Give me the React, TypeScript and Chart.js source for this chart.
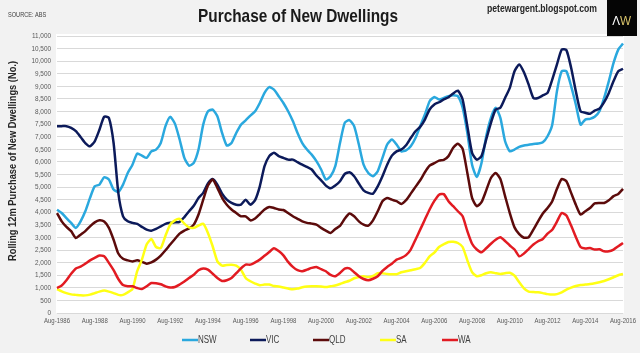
import React, { useEffect, useRef } from "react";
import { Chart, registerables } from "chart.js";

Chart.register(...registerables);

// Quarterly observations, Aug-1986 .. Aug-2016 (121 points)
const MONTHS = ["Jan", "Feb", "Mar", "Apr", "May", "Jun", "Jul", "Aug", "Sep", "Oct", "Nov", "Dec"];
const categories: string[] = Array.from({ length: 121 }, (_, i) => {
  const m = 7 + 3 * i;
  return `${MONTHS[m % 12]}-${1986 + Math.floor(m / 12)}`;
});

const tickLabels = [
  "Aug-1986", "Aug-1988", "Aug-1990", "Aug-1992", "Aug-1994", "Aug-1996", "Aug-1998", "Aug-2000",
  "Aug-2002", "Aug-2004", "Aug-2006", "Aug-2008", "Aug-2010", "Aug-2012", "Aug-2014", "Aug-2016",
];

const yTicks = [0, 500, 1000, 1500, 2000, 2500, 3000, 3500, 4000, 4500, 5000, 5500, 6000, 6500, 7000, 7500, 8000, 8500, 9000, 9500, 10000, 10500, 11000];

const nsw = [
  4100, 3970, 3770, 3575, 3380, 3640, 4040, 4570, 5030, 5100, 5390, 5300, 4900, 4810, 5100, 5560, 5890, 6330, 6250, 6160,
  6420, 6490, 6750, 7420, 7790, 7520, 6890, 6160, 5850, 5960, 6490, 7480, 8010, 8080, 7810, 7150, 6650, 6750, 7150, 7480,
  7650,
  7840, 8010, 8340, 8740, 8970, 8870, 8610, 8340, 8010, 7620, 7150, 6750, 6490, 6290, 6030, 5700, 5300, 5430, 5830, 6750,
  7550, 7660, 7420, 6690, 5890, 5560, 5430, 5630, 6160, 6690, 6890, 6690, 6420, 6460, 6620, 6950, 7420, 7880, 8410, 8580,
  8480, 8540, 8610, 8650, 8610, 8150, 7150, 5890, 5400, 5960, 7020, 7750, 8150, 7750, 6820, 6420, 6490, 6600, 6650, 6680,
  6710, 6730, 6780, 7020, 7480, 8810, 9600, 9600, 9010, 8280, 7480, 7680, 7710, 7790, 8010, 8540, 9210, 9930, 10460, 10700,
];

const vic = [
  7420, 7420, 7420, 7350, 7220, 6990, 6750, 6620, 6820, 7280, 7790, 7750, 6750, 4770, 3840, 3640, 3580, 3540, 3420, 3310,
  3270, 3340, 3440, 3540, 3580, 3600, 3620, 3810, 4040, 4260, 4570, 4770, 5140, 5320, 5100, 4740, 4500, 4370, 4300, 4300,
  4500,
  4300, 4480, 5030, 5830, 6230, 6360, 6230, 6160, 6090, 6090, 5990, 5890, 5800, 5700, 5460, 5270, 5060, 4950, 5060, 5230,
  5520, 5590, 5430, 5140, 4870, 4770, 4740, 5030, 5430, 5890, 6250, 6420, 6490, 6660, 6950, 7220, 7390, 7680, 8080, 8280,
  8370, 8480, 8570, 8720, 8830, 8480, 7420, 6360, 6090, 6230, 6890, 7550, 8080, 8150, 8540, 8940, 9600, 9870, 9560, 9070,
  8540, 8540, 8640, 8740, 9270, 9870, 10460, 10440, 9740, 8810, 8010, 7950, 7910, 8040, 8110, 8370, 8740, 9210, 9600, 9700,
];

const qld = [
  3970, 3640, 3420, 3250, 2980, 3110, 3250, 3440, 3600, 3680, 3630, 3380, 2910, 2360, 2150, 2090, 2050, 2090, 2030, 1960,
  2010, 2120, 2280, 2490, 2720, 2940, 3150, 3270, 3360, 3510, 3910, 4500, 5060, 5300, 4970, 4570, 4300, 4110, 3970, 3840,
  3840,
  3680, 3750, 3930, 4110, 4210, 4170, 4110, 4090, 3970, 3840, 3740, 3640, 3580, 3550, 3510, 3380, 3270, 3180, 3340, 3460,
  3740, 3950, 3840, 3640, 3510, 3470, 3680, 4040, 4440, 4570, 4500, 4440, 4330, 4480, 4740, 5010, 5270, 5590, 5850, 5950,
  6050, 6080, 6230, 6560, 6720, 6520, 5560, 4570, 4240, 4400, 4870, 5360, 5560, 5320, 4640, 3970, 3400, 3130, 2990, 3010,
  3310, 3640, 3950, 4170, 4440, 4930, 5320, 5230, 4770, 4300, 3910, 4040, 4170, 4350, 4370, 4370, 4480, 4640, 4730, 4930,
];

const sa = [
  950, 860, 790, 740, 720, 700, 700, 730, 790, 850, 890, 850, 790, 720, 720, 820, 950, 1660, 2120, 2720,
  2940, 2620, 2580, 3070, 3510, 3680, 3740, 3550, 3400, 3380, 3470, 3540, 3180, 2650, 2050, 1880, 1910, 1920, 1880, 1720,
  1390,
  1260, 1170, 1100, 1130, 1130, 1070, 1050, 1010, 970, 940, 970, 1020, 1050, 1060, 1060, 1050, 1030, 1060, 1090, 1150,
  1220, 1280, 1380, 1430, 1460, 1430, 1470, 1580, 1580, 1550, 1540, 1540, 1620, 1660, 1700, 1740, 1790, 1990, 2250, 2400,
  2620, 2730, 2820, 2830, 2780, 2620, 2090, 1620, 1460, 1500, 1580, 1620, 1580, 1550, 1580, 1600, 1480, 1220, 980, 850,
  830, 820, 790, 750, 730, 750, 820, 930, 1010, 1070, 1110, 1130, 1150, 1180, 1220, 1270, 1340, 1420, 1500, 1550,
];

const wa = [
  990, 1090, 1300, 1560, 1770, 1840, 1960, 2090, 2190, 2280, 2250, 1990, 1700, 1350, 1110, 1060, 1060, 990, 950, 1060,
  1190, 1180, 1140, 1060, 1010, 1030, 1130, 1250, 1390, 1520, 1700, 1770, 1720, 1560, 1390, 1270, 1300, 1390, 1580, 1770,
  1920,
  1920, 2010, 2120, 2270, 2420, 2570, 2460, 2290, 2030, 1830, 1700, 1660, 1720, 1790, 1830, 1740, 1660, 1510, 1460, 1590,
  1760, 1770, 1620, 1460, 1350, 1300, 1360, 1460, 1670, 1830, 1960, 2120, 2190, 2300, 2520, 2910, 3310, 3710, 4110, 4450,
  4700, 4720, 4440, 4240, 4040, 3840, 3250, 2750, 2520, 2410, 2570, 2750, 2910, 3010, 2860, 2680, 2520, 2250, 2360, 2540,
  2720, 2850, 2940, 3150, 3310, 3630, 3970, 3870, 3470, 3020, 2620, 2560, 2580, 2520, 2530, 2450, 2450, 2520, 2650, 2780,
];

const seriesNames = ["NSW", "VIC", "QLD", "SA", "WA"];
const seriesColors = ["#2aa8de", "#0c1a5a", "#5c0b0b", "#ffff14", "#e21b22"];
const seriesValues = [nsw, vic, qld, sa, wa];

const FONT = '"Liberation Sans", Arial, sans-serif';
const NARROW = 0.8;

// draw text horizontally condensed (emulates Arial Narrow)
function drawText(ctx: any, text: string, x: number, y: number, font: string, color: string, align: string, sx: number, fitWidth?: number) {
  ctx.save();
  ctx.font = font;
  ctx.fillStyle = color;
  ctx.textBaseline = "middle";
  ctx.textAlign = align;
  let s = sx;
  if (fitWidth) s = fitWidth / ctx.measureText(text).width;
  ctx.translate(x, y);
  ctx.scale(s, 1);
  ctx.fillText(text, 0, 0);
  ctx.restore();
}

const decorPlugin = {
  id: "decor",
  beforeDraw(chart: any) {
    const { ctx, chartArea } = chart;
    ctx.save();
    ctx.fillStyle = "#f2f2f2";
    ctx.fillRect(0, 0, chart.width, chart.height);
    ctx.fillStyle = "#ffffff";
    ctx.fillRect(chartArea.left - 1, chartArea.top - 2, chartArea.right - chartArea.left + 2, chartArea.bottom - chartArea.top + 2);
    ctx.restore();
  },
  afterDraw(chart: any) {
    const { ctx } = chart;
    const xs = chart.scales.x;
    const ys = chart.scales.y;
    // axis tick labels
    tickLabels.forEach((lab, i) => {
      drawText(ctx, lab, xs.getPixelForValue(i * 8), 321, `7.5px ${FONT}`, "#595959", "center", NARROW);
    });
    yTicks.forEach((v) => {
      drawText(ctx, v.toLocaleString("en-US"), 51, ys.getPixelForValue(v), `8px ${FONT}`, "#595959", "right", NARROW);
    });
    // source
    drawText(ctx, "SOURCE: ABS", 8, 15, `7px ${FONT}`, "#404040", "left", NARROW);
    // title
    drawText(ctx, "Purchase of New Dwellings", 298, 17, `bold 19px ${FONT}`, "#1a1a1a", "center", NARROW, 200);
    // blog
    drawText(ctx, "petewargent.blogspot.com", 542, 9, `bold 10.5px ${FONT}`, "#262626", "center", NARROW, 110);
    // logo
    ctx.save();
    ctx.fillStyle = "#050505";
    ctx.fillRect(607, 0, 30, 36);
    ctx.restore();
    drawText(ctx, "Λ", 620, 21, `13px ${FONT}`, "#ffffff", "right", 0.9);
    drawText(ctx, "W", 620, 21, `13px ${FONT}`, "#d8c36a", "left", 0.9);
    // y title
    ctx.save();
    ctx.translate(13, 161);
    ctx.rotate(-Math.PI / 2);
    drawText(ctx, "Rolling 12m Purchase of New Dwellings (No.)", 0, 0, `bold 10.5px ${FONT}`, "#262626", "center", NARROW, 200);
    ctx.restore();
    // legend
    const legendX = [182, 250, 313, 380, 442];
    seriesNames.forEach((name, i) => {
      const x = legendX[i];
      ctx.save();
      ctx.strokeStyle = seriesColors[i];
      ctx.lineWidth = 2.5;
      ctx.beginPath();
      ctx.moveTo(x, 340);
      ctx.lineTo(x + 16, 340);
      ctx.stroke();
      ctx.restore();
      drawText(ctx, name, x + 16, 340, `10px ${FONT}`, "#404040", "left", NARROW);
    });
  },
};

export default function App() {
  const canvasRef = useRef<HTMLCanvasElement | null>(null);

  useEffect(() => {
    document.body.style.margin = "0";
    const canvas = canvasRef.current;
    if (!canvas) return;
    const chart = new Chart(canvas, {
      type: "line",
      data: {
        labels: categories,
        datasets: seriesNames.map((name, i) => ({
          label: name,
          data: seriesValues[i],
          borderColor: seriesColors[i],
          backgroundColor: seriesColors[i],
          borderWidth: 2.5,
          pointRadius: 0,
          tension: 0.2,
          order: seriesNames.length - 1 - i,
        })),
      },
      options: {
        responsive: false,
        animation: false,
        events: [],
        layout: { padding: { left: 0, right: 17, top: 36, bottom: 0 } },
        plugins: { legend: { display: false }, title: { display: false }, tooltip: { enabled: false } },
        scales: {
          x: {
            type: "category",
            offset: false,
            grid: { display: false },
            border: { display: false },
            ticks: { display: false, autoSkip: false },
            afterFit: (scale: any) => {
              scale.height = 40;
            },
          },
          y: {
            min: 0,
            max: 11000,
            afterBuildTicks: (scale: any) => {
              scale.ticks = yTicks.map((v) => ({ value: v }));
            },
            grid: { color: "#d9d9d9", lineWidth: 1, drawTicks: false },
            border: { display: false },
            ticks: { display: false },
            afterFit: (scale: any) => {
              scale.width = 57;
            },
          },
        },
      },
      plugins: [decorPlugin],
    });
    return () => chart.destroy();
  }, []);

  return (
    <div style={{ width: 640, height: 353 }}>
      <canvas ref={canvasRef} width={640} height={353} style={{ display: "block", width: 640, height: 353 }} />
    </div>
  );
}
